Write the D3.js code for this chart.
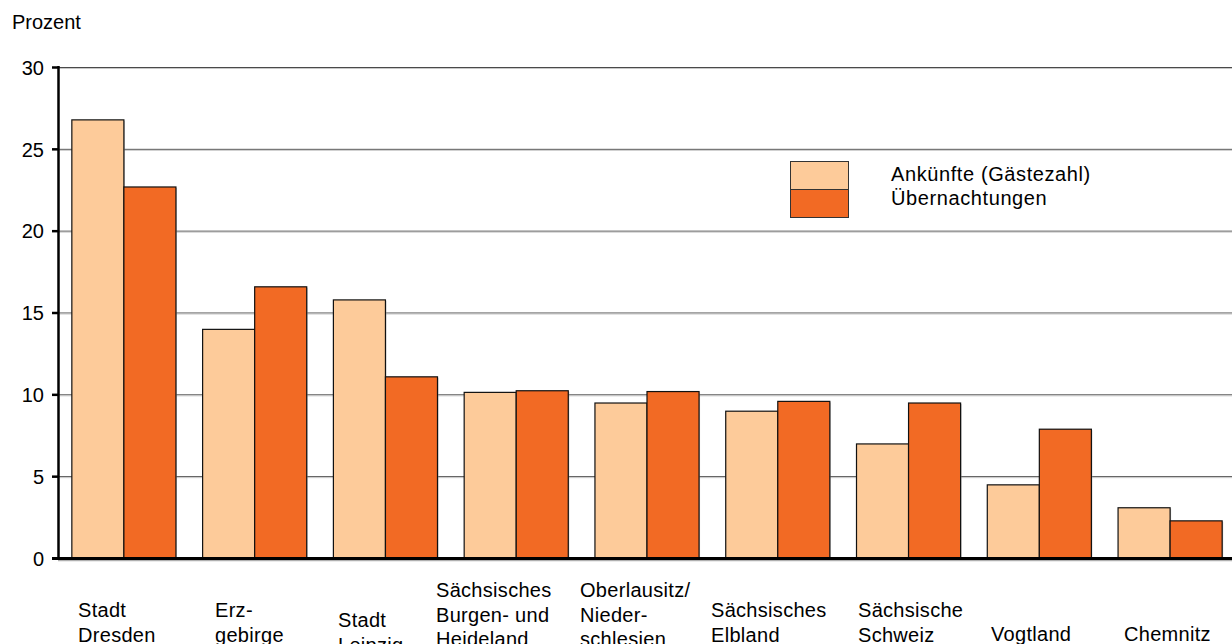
<!DOCTYPE html>
<html><head><meta charset="utf-8">
<script src="https://cdn.jsdelivr.net/npm/d3@7"></script>
<style>
html,body{margin:0;padding:0;background:#fff;}
svg{display:block;}
text{font-family:"Liberation Sans",Arial,sans-serif;fill:#000;}
</style></head>
<body>
<svg id="chart" width="1232" height="644"></svg>
<script>
const categories = ["Stadt Dresden","Erzgebirge","Stadt Leipzig","Sächsisches Burgen- und Heideland","Oberlausitz/Niederschlesien","Sächsisches Elbland","Sächsische Schweiz","Vogtland","Chemnitz"];
const labelLines = [["Stadt","Dresden"],["Erz-","gebirge"],["Stadt","Leipzig"],["Sächsisches","Burgen- und","Heideland"],["Oberlausitz/","Nieder-","schlesien"],["Sächsisches","Elbland"],["Sächsische","Schweiz"],["Vogtland"],["Chemnitz"]];
const seriesNames = ["Ankünfte (Gästezahl)","Übernachtungen"];
const ankuenfte = [26.8,14.0,15.8,10.15,9.5,9.0,7.0,4.5,3.1];
const uebernachtungen = [22.7,16.6,11.1,10.25,10.2,9.6,9.5,7.9,2.3];
const yTicks = [0,5,10,15,20,25,30];
const colors = ["#FDCB9A","#F26A24"];

const svg = d3.select("#chart");
const x0 = 58, x1 = 1235, yBottom = 558, yTop = 67;
const x = d3.scaleBand().domain(categories).range([x0,x1]).paddingInner(0.204).paddingOuter(0.102);
const xs = d3.scaleBand().domain(seriesNames).range([0,x.bandwidth()]).padding(0);
const y = d3.scaleLinear().domain([0,30]).range([yBottom,yTop]);

// gridlines
svg.append("g").selectAll("line").data(yTicks.filter(t=>t>0)).join("line")
  .attr("x1",x0).attr("x2",1232).attr("y1",d=>y(d)+0.5).attr("y2",d=>y(d)+0.5)
  .attr("stroke","#4a4a4a").attr("stroke-width",1);
svg.append("g").selectAll("line").data(yTicks.filter(t=>t>0)).join("line")
  .attr("x1",x0).attr("x2",1232).attr("y1",d=>y(d)+1.5).attr("y2",d=>y(d)+1.5)
  .attr("stroke","#c8c8c8").attr("stroke-width",1);

// bars
const data = categories.map((c,i)=>({cat:c, vals:[ankuenfte[i],uebernachtungen[i]]}));
const groups = svg.append("g").selectAll("g").data(data).join("g")
  .attr("transform",d=>`translate(${x(d.cat)},0)`);
// shadows
groups.selectAll("rect.sh").data(d=>d.vals.map((v,j)=>({v,j}))).join("rect")
  .attr("class","sh")
  .attr("x",d=>xs(seriesNames[d.j])+1.5).attr("y",d=>y(d.v)+1.5)
  .attr("width",xs.bandwidth()).attr("height",d=>yBottom-y(d.v))
  .attr("fill","#a0a0a0").attr("opacity",0.6);
groups.selectAll("rect.b").data(d=>d.vals.map((v,j)=>({v,j}))).join("rect")
  .attr("class","b")
  .attr("x",d=>xs(seriesNames[d.j])+0.5).attr("y",d=>y(d.v)+0.5)
  .attr("width",xs.bandwidth()).attr("height",d=>yBottom-y(d.v))
  .attr("fill",d=>colors[d.j]).attr("stroke","#111").attr("stroke-width",1.2);

// y axis
const yAxis = d3.axisLeft(y).tickValues(yTicks).tickSize(6).tickPadding(8).tickFormat(d3.format("d"));
const ga = svg.append("g").attr("transform",`translate(${x0},0)`).call(yAxis);
ga.select(".domain").remove();
ga.selectAll(".tick line").attr("stroke","#000").attr("stroke-width",2.5);
ga.selectAll(".tick text").attr("font-size",20).attr("font-family","Liberation Sans, Arial, sans-serif").attr("fill","#000").attr("dy","0.36em");
svg.append("line").attr("x1",x0+0.5).attr("x2",x0+0.5).attr("y1",y(30)-1).attr("y2",yBottom+1)
  .attr("stroke","#000").attr("stroke-width",2.5);
// x baseline
svg.append("line").attr("x1",x0).attr("x2",1232).attr("y1",yBottom+2.5).attr("y2",yBottom+2.5)
  .attr("stroke","#b0b0b0").attr("stroke-width",1.5);
svg.append("line").attr("x1",x0-6).attr("x2",1232).attr("y1",yBottom+0.5).attr("y2",yBottom+0.5)
  .attr("stroke","#000").attr("stroke-width",3);

// y title
svg.append("text").attr("x",12).attr("y",29).attr("font-size",20).text("Prozent");

// category labels
const labelX = [78,215,338,436,580,711,858,991,1124];
const labelY0 = [617,617,627,597,597,617,617,641,641];
const lineH = 24.5;
labelLines.forEach((lines,i)=>{
  const t = svg.append("text").attr("font-size",20).attr("letter-spacing","0.3px");
  lines.forEach((l,k)=>{
    t.append("tspan").attr("x",labelX[i]).attr("y",labelY0[i]+k*lineH).text(l);
  });
});

// legend
const lg = svg.append("g");
seriesNames.forEach((s,j)=>{
  lg.append("rect").attr("x",790.5).attr("y",161.5+j*28).attr("width",58).attr("height",28)
    .attr("fill",colors[j]).attr("stroke","#333").attr("stroke-width",1);
  lg.append("text").attr("x",891).attr("y",181+j*24).attr("font-size",20).attr("letter-spacing","0.6px").text(s);
});
</script>
</body></html>
